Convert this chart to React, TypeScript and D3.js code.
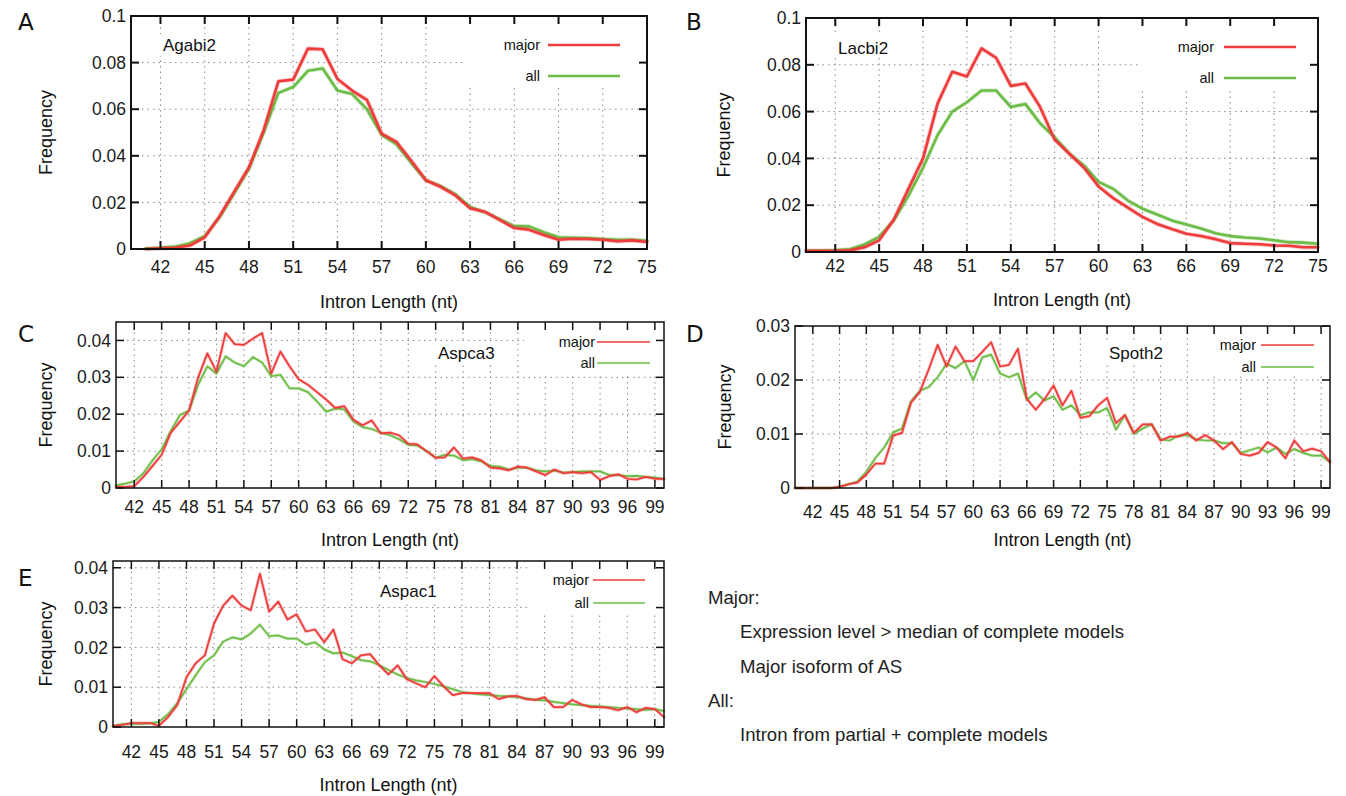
import * as d3 from "d3";

const RED = "#ee3b3b";
const GREEN = "#6cbd47";
const FONT = "'Liberation Sans', Arial, Helvetica, sans-serif";

// intron lengths (x categories)
const lenA = d3.range(41, 76);
const lenB = d3.range(40, 76);
const lenLong = d3.range(40, 101);

const ticksShort = [42, 45, 48, 51, 54, 57, 60, 63, 66, 69, 72, 75];
const ticksLong = [42, 45, 48, 51, 54, 57, 60, 63, 66, 69, 72, 75, 78, 81, 84, 87, 90, 93, 96, 99];
const yTicks01 = [0, 0.02, 0.04, 0.06, 0.08, 0.1];
const yTicks04 = [0, 0.01, 0.02, 0.03, 0.04];
const yTicks03 = [0, 0.01, 0.02, 0.03];

// Agabi2, lengths 41..75
const agabi2Major = [0, 0.0003, 0.0005, 0.0015, 0.005, 0.014, 0.0245, 0.035, 0.051, 0.072, 0.0727, 0.086, 0.0857, 0.073, 0.068, 0.064, 0.0495, 0.046, 0.038, 0.0295, 0.0267, 0.023, 0.0175, 0.016, 0.0125, 0.009, 0.0083, 0.006, 0.004, 0.0044, 0.0043, 0.004, 0.0033, 0.0037, 0.003];
const agabi2All = [0.0002, 0.0005, 0.001, 0.0025, 0.0055, 0.0135, 0.024, 0.0345, 0.05, 0.067, 0.0695, 0.0765, 0.0775, 0.068, 0.0665, 0.06, 0.049, 0.045, 0.037, 0.0295, 0.027, 0.0235, 0.018, 0.0158, 0.0128, 0.0098, 0.0097, 0.0072, 0.005, 0.0048, 0.0047, 0.0043, 0.004, 0.004, 0.0035];

// Lacbi2, lengths 40..75
const lacbi2Major = [0.0005, 0.0005, 0.0005, 0.0007, 0.002, 0.005, 0.0138, 0.027, 0.04, 0.0635, 0.077, 0.075, 0.087, 0.083, 0.071, 0.072, 0.062, 0.048, 0.042, 0.036, 0.028, 0.023, 0.019, 0.015, 0.012, 0.0098, 0.0078, 0.0068, 0.0055, 0.0038, 0.0035, 0.0033, 0.0028, 0.0027, 0.002, 0.002];
const lacbi2All = [0.0005, 0.0005, 0.0007, 0.0012, 0.0032, 0.0065, 0.0135, 0.024, 0.036, 0.05, 0.06, 0.064, 0.069, 0.069, 0.062, 0.0632, 0.055, 0.049, 0.042, 0.037, 0.03, 0.027, 0.022, 0.0185, 0.016, 0.0135, 0.0118, 0.01, 0.008, 0.0068, 0.0062, 0.0058, 0.005, 0.0042, 0.004, 0.0035];

// Aspca3, lengths 40..100
const aspca3Major = [
  0.0003, 0.0003, 0.0005, 0.003, 0.006, 0.009, 0.015, 0.018, 0.021, 0.03,
  0.0365, 0.0315, 0.042, 0.039, 0.0388, 0.0405, 0.042, 0.031, 0.037, 0.033,
  0.0295, 0.028, 0.026, 0.024, 0.0217, 0.0222, 0.0185, 0.017, 0.0183, 0.0148,
  0.015, 0.0143, 0.012, 0.0118, 0.01, 0.0082, 0.0083, 0.011, 0.008, 0.0083,
  0.0075, 0.0055, 0.0053, 0.0048, 0.0058, 0.0055, 0.0045, 0.0035, 0.005, 0.004,
  0.0043, 0.004, 0.0043, 0.0022, 0.0032, 0.0037, 0.0025, 0.0023, 0.003, 0.0025,
  0.0025,
];
const aspca3All = [
  0.0007, 0.0012, 0.0018, 0.004, 0.0075, 0.0105, 0.0155, 0.0198, 0.021, 0.028,
  0.033, 0.031, 0.0357, 0.034, 0.033, 0.0355, 0.034, 0.0303, 0.0307, 0.027,
  0.027, 0.026, 0.0235, 0.0207, 0.0215, 0.0213, 0.018, 0.0165, 0.016, 0.015,
  0.0143, 0.0132, 0.0117, 0.0115, 0.01, 0.0082, 0.009, 0.0088, 0.0075, 0.0078,
  0.0072, 0.006, 0.0058, 0.005, 0.0055, 0.0055, 0.0048, 0.0045, 0.0047, 0.0042,
  0.0043, 0.0045, 0.0045, 0.0045, 0.0035, 0.0035, 0.0032, 0.0033, 0.003, 0.0028,
  0.0025,
];

// Spoth2, lengths 40..100
const spoth2Major = [
  0, 0, 0, 0, 0, 0.0002, 0.0007, 0.001, 0.0025, 0.0045,
  0.0045, 0.0097, 0.0102, 0.0158, 0.0178, 0.022, 0.0265, 0.0225, 0.0262, 0.0235,
  0.0235, 0.0252, 0.027, 0.0225, 0.0228, 0.0258, 0.0165, 0.0145, 0.0165, 0.019,
  0.0153, 0.018, 0.013, 0.0133, 0.0153, 0.0167, 0.012, 0.0135, 0.0102, 0.0118,
  0.0118, 0.0088, 0.0095, 0.0095, 0.0102, 0.0088, 0.0098, 0.0088, 0.0072, 0.0085,
  0.0063, 0.006, 0.0065, 0.0085, 0.0075, 0.0055, 0.0088, 0.0068, 0.0073, 0.0068,
  0.0048,
];
const spoth2All = [
  0, 0, 0, 0, 0, 0.0002, 0.0007, 0.0012, 0.003, 0.0055,
  0.0075, 0.0103, 0.011, 0.016, 0.018, 0.0187, 0.0205, 0.023, 0.0222, 0.0235,
  0.02, 0.0242, 0.0247, 0.0212, 0.0205, 0.0212, 0.0163, 0.0177, 0.0162, 0.017,
  0.0145, 0.0153, 0.0135, 0.014, 0.014, 0.0148, 0.0108, 0.0135, 0.01, 0.011,
  0.0118, 0.009, 0.0088, 0.0097, 0.0098, 0.009, 0.0088, 0.0088, 0.0083, 0.0083,
  0.0065, 0.007, 0.0075, 0.0066, 0.0075, 0.0063, 0.0072, 0.0065, 0.006, 0.006,
  0.0048,
];

// Aspac1, lengths 40..100
const aspac1Major = [
  0.0003, 0.0005, 0.001, 0.001, 0.001, 0.0003, 0.0025, 0.0055, 0.0125, 0.016,
  0.018, 0.026, 0.0305, 0.033, 0.0305, 0.0293, 0.0385, 0.029, 0.0315, 0.027,
  0.0283, 0.024, 0.0245, 0.0213, 0.0245, 0.017, 0.016, 0.018, 0.0183, 0.0155,
  0.0132, 0.0155, 0.012, 0.011, 0.01, 0.0128, 0.0102, 0.008, 0.0085, 0.0085,
  0.0085, 0.0085, 0.007, 0.0077, 0.0078, 0.007, 0.0068, 0.0075, 0.005, 0.005,
  0.0068, 0.0057, 0.005, 0.005, 0.0048, 0.0042, 0.005, 0.0037, 0.0048, 0.0045,
  0.0025,
];
const aspac1All = [
  0.0003, 0.0007, 0.0008, 0.0008, 0.0009, 0.0013, 0.0032, 0.006, 0.0095, 0.013,
  0.0163, 0.018, 0.0215, 0.0225, 0.022, 0.0235, 0.0257, 0.0228, 0.023, 0.0222,
  0.0222, 0.0207, 0.0213, 0.0195, 0.0185, 0.0187, 0.0178, 0.0168, 0.0165, 0.0155,
  0.0143, 0.0132, 0.0123, 0.0117, 0.0113, 0.0108, 0.0102, 0.0095, 0.0088, 0.0085,
  0.0082, 0.008, 0.0078, 0.0077, 0.0075, 0.0072, 0.0068, 0.0067, 0.0063, 0.006,
  0.0057, 0.0055, 0.0053, 0.0052, 0.005, 0.0048, 0.0047, 0.0045, 0.0043, 0.0045,
  0.004,
];

const notes = [
  { text: "Major:", indent: false },
  { text: "Expression level > median of complete models", indent: true },
  { text: "Major isoform of AS", indent: true },
  { text: "All:", indent: false },
  { text: "Intron from partial + complete models", indent: true },
];

const panels = [
  {
    letter: "A", name: "Agabi2", lengths: lenA, major: agabi2Major, all: agabi2All,
    box: { left: 131, right: 647, top: 16, bottom: 249 }, xDomain: [40, 75], yDomain: [0, 0.1],
    xTicks: ticksShort, yTicks: yTicks01, lw: 2.6, frame: 2,
    letterPos: [18, 30], namePos: [163, 51], nameBox: [158, 34, 70, 22],
    legend: { right: 540, x0: 548, x1: 620, y0: 45, y1: 76 }, keyBox: [463, 16, 184, 70],
    xLabelY: 273, titleY: 308, freqX: 46,
  },
  {
    letter: "B", name: "Lacbi2", lengths: lenB, major: lacbi2Major, all: lacbi2All,
    box: { left: 806, right: 1318, top: 18, bottom: 252 }, xDomain: [40, 75], yDomain: [0, 0.1],
    xTicks: ticksShort, yTicks: yTicks01, lw: 2.6, frame: 2,
    letterPos: [686, 30], namePos: [838, 54], nameBox: [834, 36, 66, 22],
    legend: { right: 1214, x0: 1224, x1: 1296, y0: 47, y1: 78 }, keyBox: [1141, 18, 177, 70],
    xLabelY: 272, titleY: 306, freqX: 724,
  },
  {
    letter: "C", name: "Aspca3", lengths: lenLong, major: aspca3Major, all: aspca3All,
    box: { left: 116, right: 664, top: 322, bottom: 488 }, xDomain: [40, 100], yDomain: [0, 0.045],
    xTicks: ticksLong, yTicks: yTicks04, lw: 1.7, frame: 1.5,
    letterPos: [18, 342], namePos: [438, 359], nameBox: [433, 341, 74, 24],
    legend: { right: 595, x0: 597, x1: 650, y0: 342, y1: 363 }, keyBox: [524, 322, 140, 51],
    xLabelY: 513, titleY: 546, freqX: 46,
  },
  {
    letter: "D", name: "Spoth2", lengths: lenLong, major: spoth2Major, all: spoth2All,
    box: { left: 795, right: 1330, top: 326, bottom: 488 }, xDomain: [40, 100], yDomain: [0, 0.03],
    xTicks: ticksLong, yTicks: yTicks03, lw: 1.7, frame: 1.5,
    letterPos: [686, 342], namePos: [1109, 359], nameBox: [1104, 341, 74, 24],
    legend: { right: 1256, x0: 1261, x1: 1314, y0: 345, y1: 367 }, keyBox: [1190, 326, 140, 50],
    xLabelY: 518, titleY: 546, freqX: 725,
  },
  {
    letter: "E", name: "Aspac1", lengths: lenLong, major: aspac1Major, all: aspac1All,
    box: { left: 113, right: 664, top: 561, bottom: 727 }, xDomain: [40, 100], yDomain: [0, 0.0417],
    xTicks: ticksLong, yTicks: yTicks04, lw: 1.7, frame: 1.5,
    letterPos: [18, 586], namePos: [380, 597], nameBox: [375, 579, 74, 24],
    legend: { right: 589, x0: 593, x1: 645, y0: 580, y1: 603 }, keyBox: [530, 561, 134, 51],
    xLabelY: 758, titleY: 791, freqX: 46,
  },
];

const fmtY = (v: number) => (v === 0 ? "0" : String(v));

function Panel({ p }: { p: any }) {
  const { left, right, top, bottom } = p.box;
  const x = d3.scaleLinear().domain(p.xDomain).range([left, right]);
  const y = d3.scaleLinear().domain(p.yDomain).range([bottom, top]);
  const line = d3.line<number>()
    .x((_, i) => x(p.lengths[i]))
    .y((d) => y(d));
  const tl = 8;
  const series = [
    { key: "all", values: p.all, color: GREEN },
    { key: "major", values: p.major, color: RED },
  ];
  return (
    <g fontFamily={FONT} fill="#111">
      {/* grid */}
      <g stroke="#8a8a8a" strokeWidth={1} strokeDasharray="1.5,4">
        {p.xTicks.map((t: number) => (
          <line key={"gx" + t} x1={x(t)} x2={x(t)} y1={bottom} y2={top} />
        ))}
        {p.yTicks.filter((t: number) => t > 0 && y(t) > top + 2).map((t: number) => (
          <line key={"gy" + t} x1={left} x2={right} y1={y(t)} y2={y(t)} />
        ))}
      </g>
      {/* opaque key and title boxes */}
      <rect x={p.keyBox[0]} y={p.keyBox[1]} width={p.keyBox[2]} height={p.keyBox[3]} fill="#fff" />
      <rect x={p.nameBox[0]} y={p.nameBox[1]} width={p.nameBox[2]} height={p.nameBox[3]} fill="#fff" />
      {/* data */}
      {series.map((s) => (
        <g key={s.key} fill="none" strokeLinejoin="round" strokeLinecap="round">
          <path d={line(s.values) || ""} stroke={s.color} strokeOpacity={0.3} strokeWidth={p.lw + 1.6} />
          <path d={line(s.values) || ""} stroke={s.color} strokeWidth={p.lw} />
        </g>
      ))}
      {/* frame and ticks */}
      <rect x={left} y={top} width={right - left} height={bottom - top} fill="none" stroke="#111" strokeWidth={p.frame} />
      <g stroke="#111" strokeWidth={p.frame}>
        {p.xTicks.map((t: number) => (
          <g key={"tx" + t}>
            <line x1={x(t)} x2={x(t)} y1={bottom} y2={bottom - tl} />
            <line x1={x(t)} x2={x(t)} y1={top} y2={top + tl} />
          </g>
        ))}
        {p.yTicks.map((t: number) => (
          <g key={"ty" + t}>
            <line x1={left} x2={left + tl} y1={y(t)} y2={y(t)} />
            <line x1={right} x2={right - tl} y1={y(t)} y2={y(t)} />
          </g>
        ))}
      </g>
      {/* tick labels */}
      <g fontSize={17.5} fill="#1a1a1a">
        {p.xTicks.map((t: number) => (
          <text key={"lx" + t} x={x(t)} y={p.xLabelY} textAnchor="middle">{t}</text>
        ))}
        {p.yTicks.map((t: number) => (
          <text key={"ly" + t} x={left - 5} y={y(t)} dy="0.35em" textAnchor="end">{fmtY(t)}</text>
        ))}
      </g>
      <text x={(left + right) / 2} y={p.titleY} textAnchor="middle" fontSize={18}>Intron Length (nt)</text>
      <text transform={`translate(${p.freqX},${(top + bottom) / 2}) rotate(-90)`} textAnchor="middle" dy="0.35em" fontSize={18}>Frequency</text>
      <text x={p.letterPos[0]} y={p.letterPos[1]} fontSize={23} fontFamily="'DejaVu Sans', sans-serif">{p.letter}</text>
      <text x={p.namePos[0]} y={p.namePos[1]} fontSize={17}>{p.name}</text>
      {/* legend */}
      <g fontSize={14.5}>
        <text x={p.legend.right} y={p.legend.y0} dy="0.35em" textAnchor="end">major</text>
        <text x={p.legend.right} y={p.legend.y1} dy="0.35em" textAnchor="end">all</text>
        <line x1={p.legend.x0} x2={p.legend.x1} y1={p.legend.y0} y2={p.legend.y0} stroke={RED} strokeWidth={p.lw} />
        <line x1={p.legend.x0} x2={p.legend.x1} y1={p.legend.y1} y2={p.legend.y1} stroke={GREEN} strokeWidth={p.lw} />
      </g>
    </g>
  );
}

export default function App() {
  return (
    <svg width={1346} height={796} style={{ position: "absolute", left: 0, top: 0, background: "#fff" }}>
      {panels.map((p) => (
        <Panel key={p.letter} p={p} />
      ))}
      <g fontFamily={FONT} fontSize={18.6} fill="#222">
        {notes.map((n, i) => (
          <text key={i} x={n.indent ? 740 : 708} y={604 + i * 34.3}>{n.text}</text>
        ))}
      </g>
    </svg>
  );
}
